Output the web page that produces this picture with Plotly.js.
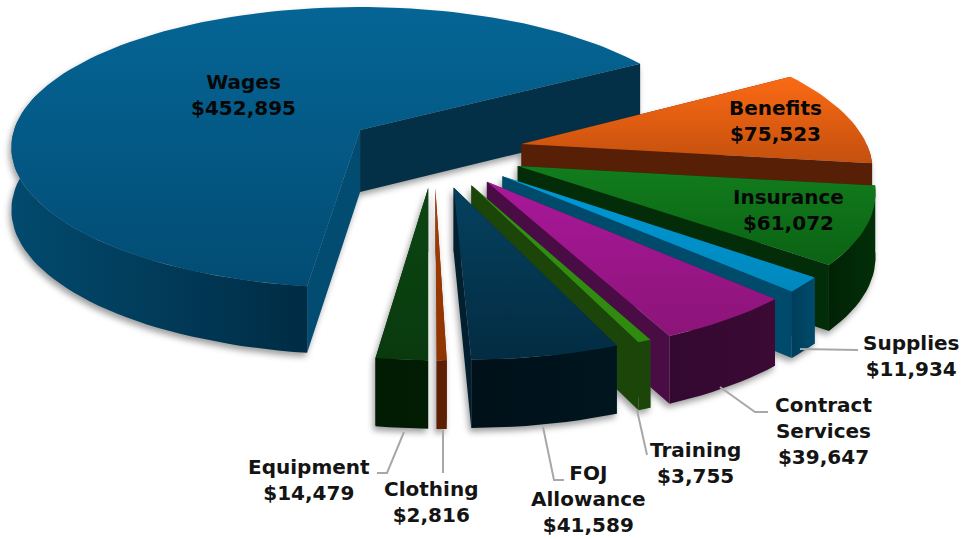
<!DOCTYPE html>
<html><head><meta charset="utf-8">
<script src="https://cdn.plot.ly/plotly-3.0.1.min.js"></script>
<style>
html,body{margin:0;padding:0;background:#fff}
#chart{width:973px;height:539px}
.scatterlayer{filter:drop-shadow(-2px 4px 3px rgba(0,0,0,.38))}
</style></head><body><div id="chart"></div>
<script>
// ---- data ----
const categories = ['Benefits','Insurance','Supplies','Contract Services','Training','FOJ Allowance','Clothing','Equipment','Wages'];
const labelLines = ['Benefits','Insurance','Supplies','Contract<br>Services','Training','FOJ<br>Allowance','Clothing','Equipment','Wages'];
const values = [75523,61072,11934,39647,3755,41589,2816,14479,452895];
// ---- colours per slice ----
const topA  = ['#fb6a14','#127d1d','#0099d6','#a9189a','#339012','#05415f','#a53c00','#0b4612','#056595'];
const topB  = ['#c4500e','#0b6213','#0088bd','#8c1478','#2f8a10','#032c42','#8e3300','#093a0e','#024c74'];
const wallA = ['#571f06','#022f08','#004a6c','#3b0a35','#1c4509','#00161f','#5c1f02','#021d03','#024a6e'];
const wallB = ['#571f06','#012205','#003e5a','#330830','#1c4509','#001019','#5c1f02','#021b03','#002c44'];
const faceEnd   = ['#571f06','#032c08','#004a6c','#4a0c44','#1c4509','#021f30','#5c1f02','#021d03','#032f47'];
const faceStart = ['#571f06','#032c08','#004a6c','#4a0c44','#1c4509','#021f30','#5c1f02','#021d03','#024c72'];
// ---- slice radius relative to the pie, and small per-slice turn in degrees ----
const sliceRadius = [0.985,0.985,0.985,0.985,0.98,0.98,0.98,0.98,1];
const sliceTurn = [-1.3,-1.5,-1.3,-1,-0.8,-0.5,0,0,-1.1];
// ---- label placement ----
const labelX = [775,788,911,823,695,588,431,309,243];
const labelY = [121,210,356,431,463,499,502,480,95];
const leaders = ['M800,349 L858,350','M720,387 L755,412 L768,412','M637,410 L647,455',
                 'M543,427 L554,480 L564,480','M443,430 L443,473','M404,432 L387,473 L377,473'];
// ---- projection of the tilted pie ----
const startAngle=-29.5, explode=0.255, pieC=[0.21,0.145];
const cx=360, R=346, persp=-0.1246, ya=122.1, yb=130, depth=62;
const rad=d=>d*Math.PI/180;
function project(s,t,z){
  const w=1+persp*t;
  return [cx+R*s/w,(ya*t+yb)/w+z*depth/(1+0.55*persp*t)];
}
const total=values.reduce((a,b)=>a+b,0);
const slices=[]; let ang=startAngle;
values.forEach((v,i)=>{
  const sweep=v/total*360, a0=ang+sliceTurn[i], a1=ang+sweep+sliceTurn[i], mid=ang+sweep/2;
  slices.push({i,a0,a1,r:sliceRadius[i],ox:pieC[0]+explode*Math.cos(rad(mid)),oy:pieC[1]+explode*Math.sin(rad(mid))});
  ang+=sweep;
});
const arcAngles=(a0,a1)=>{const n=Math.max(2,Math.ceil((a1-a0)/2)),o=[];for(let j=0;j<=n;j++)o.push(a0+(a1-a0)*j/n);return o;};
const rim=(sl,a,z)=>project(sl.ox+sl.r*Math.cos(rad(a)),sl.oy+sl.r*Math.sin(rad(a)),z);
const poly=(pts,extra)=>Object.assign({type:'scatter',mode:'lines',x:pts.map(p=>p[0]),y:pts.map(p=>p[1]),
  fill:'toself',line:{width:0},hoverinfo:'skip',showlegend:false},extra);
function closed(p){return p.concat([p[0]]);}
const traces=[];
// back to front: Wages first, then clockwise
const order=[8,0,1,2,3,4,5,6,7];
order.forEach(k=>{
  const s=slices[k];
  const ap0=project(s.ox,s.oy,0), ap1=project(s.ox,s.oy,1);
  const as=arcAngles(s.a0,s.a1);
  // outer wall: only the part that faces the viewer
  const wa=arcAngles(Math.max(s.a0,0),Math.min(s.a1,195));
  const wall=wa.map(a=>rim(s,a,0)).concat(wa.slice().reverse().map(a=>rim(s,a,1)));
  const wallTrace=poly(closed(wall),{fillcolor:wallB[k],
    fillgradient:{type:'horizontal',colorscale:[[0,k===8?wallA[k]:wallB[k]],[1,k===8?wallB[k]:wallA[k]]]}});
  const f0=poly(closed([ap0,rim(s,s.a0,0),rim(s,s.a0,1),ap1]),{fillcolor:faceStart[k]});
  const f1=poly(closed([ap0,rim(s,s.a1,0),rim(s,s.a1,1),ap1]),{fillcolor:faceEnd[k]});
  if(k===8){traces.push(wallTrace,f0,f1);} else {traces.push(f0,f1,wallTrace);}
  const top=[ap0].concat(as.map(a=>rim(s,a,0)));
  traces.push(poly(closed(top),{fillcolor:topA[k],name:categories[k],text:'$'+values[k].toLocaleString('en-US'),
    hoverinfo:'name+text',hoveron:'fills',
    fillgradient:{type:'vertical',colorscale:[[0,topB[k]],[1,topA[k]]]}}));
});
const annotations=values.map((v,i)=>({x:labelX[i],y:labelY[i],xref:'x',yref:'y',showarrow:false,
  xanchor:'center',yanchor:'middle',align:'center',
  text:'<b>'+labelLines[i]+'<br>$'+v.toLocaleString('en-US')+'</b>',
  font:{family:'"DejaVu Sans",sans-serif',size:20,color:i===0||i===1||i===8?'#070707':'#141414'}}));
const shapes=leaders.map(p=>({type:'path',path:p,xref:'x',yref:'y',line:{color:'#a8a8a8',width:2},layer:'above'}));
Plotly.newPlot('chart',traces,{
  width:973,height:539,margin:{l:0,r:0,t:0,b:0},paper_bgcolor:'#fff',plot_bgcolor:'#fff',showlegend:false,
  xaxis:{range:[0,973],visible:false,fixedrange:true},
  yaxis:{range:[539,0],visible:false,fixedrange:true},
  annotations,shapes
},{displayModeBar:false});
</script></body></html>
